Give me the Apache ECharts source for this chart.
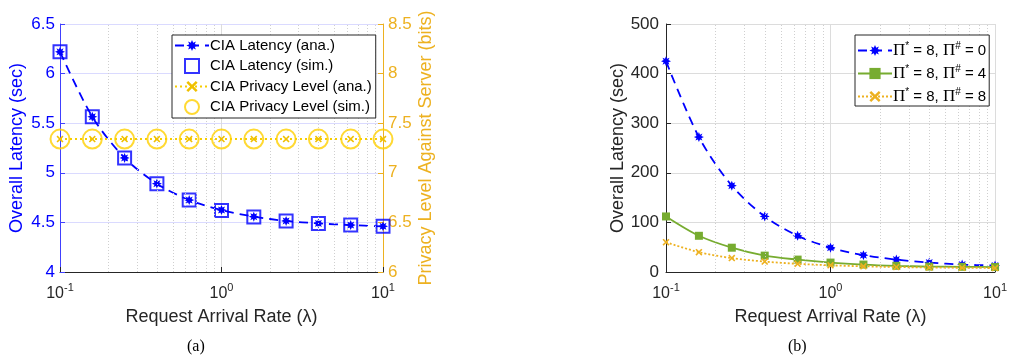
<!DOCTYPE html>
<html>
<head>
<meta charset="utf-8">
<script src="https://cdn.jsdelivr.net/npm/echarts@6/dist/echarts.min.js"></script>
<style>
  html, body { margin: 0; padding: 0; background: #fff; }
  #chart { width: 1010px; height: 360px; }
</style>
</head>
<body>
<div id="chart"></div>
<script>
// ---------- data ----------
const X_VALUES = [0.1, 0.1585, 0.2512, 0.3981, 0.631, 1, 1.585, 2.512, 3.981, 6.31, 10];
const MINOR_TICKS = [0.2, 0.3, 0.4, 0.5, 0.6, 0.7, 0.8, 0.9, 2, 3, 4, 5, 6, 7, 8, 9];

// (a)
const LAT_ANA = [6.22, 5.565, 5.15, 4.89, 4.725, 4.625, 4.558, 4.515, 4.49, 4.473, 4.46];
const LAT_SIM = [6.22, 5.565, 5.15, 4.89, 4.725, 4.62, 4.555, 4.515, 4.49, 4.475, 4.46];
const PRIV_ANA = [7.34, 7.34, 7.34, 7.34, 7.34, 7.34, 7.34, 7.34, 7.34, 7.34, 7.34];
const PRIV_SIM = [7.34, 7.34, 7.34, 7.34, 7.34, 7.34, 7.34, 7.34, 7.34, 7.34, 7.34];

// (b)
const B_P0 = [425, 272, 174, 112, 73, 49, 34, 25, 19, 15, 13];
const B_P4 = [112, 73, 49, 33, 25, 19, 15, 12.5, 11, 10.5, 10];
const B_P8 = [60, 40, 28, 21, 16.5, 13.5, 11.5, 10, 9, 8.5, 8];

const NAMES_A = ['CIA Latency (ana.)', 'CIA Latency (sim.)', 'CIA Privacy Level (ana.)', 'CIA Privacy Level (sim.)'];
const NAMES_B = ['Π* = 8, Π# = 0', 'Π* = 8, Π# = 4', 'Π* = 8, Π# = 8'];
const LEGEND_B_RICH = {
  'Π* = 8, Π# = 0': '{pi|Π}{sup|*} = 8, {pi|Π}{sup|#} = 0',
  'Π* = 8, Π# = 4': '{pi|Π}{sup|*} = 8, {pi|Π}{sup|#} = 4',
  'Π* = 8, Π# = 8': '{pi|Π}{sup|*} = 8, {pi|Π}{sup|#} = 8'
};

// ---------- helpers ----------
const pairs = (ys) => X_VALUES.map((x, i) => [x, ys[i]]);
const FONT = 'Liberation Sans, Arial, Helvetica, sans-serif';
const TXT = '#262626';
const ASTERISK = 'path://M100 50 L74 61 L85 85 L61 74 L50 100 L39 74 L15 85 L26 61 L0 50 L26 39 L15 15 L39 26 L50 0 L61 26 L85 15 L74 39 Z';
const XMARK = 'path://M0 16 L16 0 L50 34 L84 0 L100 16 L66 50 L100 84 L84 100 L50 66 L16 100 L0 84 L34 50 Z';
const SQUARE = 'path://M0 0 L100 0 L100 100 L0 100 Z';

function xAxisCfg(gridIndex) {
  return {
    type: 'log', logBase: 10, min: 0.1, max: 10, gridIndex,
    name: 'Request Arrival Rate (λ)', nameLocation: 'middle', nameGap: 36,
    nameTextStyle: { fontFamily: FONT, fontSize: 18, color: TXT },
    axisLine: { show: true, lineStyle: { color: TXT, width: 1 } },
    axisTick: { show: true, inside: true, length: 5, lineStyle: { color: TXT } },
    axisLabel: {
      show: true, margin: 10, color: TXT, fontFamily: FONT, fontSize: 16,
      showMinLabel: true, showMaxLabel: true,
      formatter: (v) => '10{sup|' + Math.round(Math.log10(v)) + '}',
      rich: { sup: { fontSize: 11, fontFamily: FONT, color: TXT, padding: [0, 0, 12, 0] } }
    },
    splitLine: { show: true, lineStyle: { color: '#dcdcdc', width: 1 } },
    minorTick: { show: false }, minorSplitLine: { show: false }
  };
}

function minorLines() {
  return {
    silent: true, symbol: 'none', animation: false,
    label: { show: false },
    lineStyle: { color: '#cfcfcf', type: [1, 2], width: 1 },
    emphasis: { disabled: true },
    data: MINOR_TICKS.map(v => ({ xAxis: v }))
  };
}

const chart = echarts.init(document.getElementById('chart'), null, { renderer: 'canvas' });

const option = {
  animation: false,
  backgroundColor: '#fff',
  grid: [
    { left: 60, top: 24, width: 323, height: 248 },
    { left: 666, top: 24, width: 333, height: 248 }
  ],
  xAxis: [xAxisCfg(0), xAxisCfg(1)],
  yAxis: [
    {
      type: 'value', gridIndex: 0, min: 4, max: 6.5, interval: 0.5, position: 'left',
      name: 'Overall Latency (sec)', nameLocation: 'middle', nameGap: 34,
      nameTextStyle: { fontFamily: FONT, fontSize: 18, color: '#0000ff' },
      axisLine: { show: true, lineStyle: { color: '#4040ff', width: 1 } },
      axisTick: { show: true, inside: true, length: 5, lineStyle: { color: '#4040ff' } },
      axisLabel: { color: '#0000ff', fontFamily: FONT, fontSize: 17, margin: 5 },
      splitLine: { show: true, lineStyle: { color: '#dadaff', width: 1 } }
    },
    {
      type: 'value', gridIndex: 0, min: 6, max: 8.5, interval: 0.5, position: 'right',
      name: 'Privacy Level Against Server (bits)', nameLocation: 'middle', nameGap: 34,
      nameTextStyle: { fontFamily: FONT, fontSize: 18, color: '#EDB120' },
      axisLine: { show: true, lineStyle: { color: '#EDB120', width: 1 } },
      axisTick: { show: true, inside: true, length: 5, lineStyle: { color: '#EDB120' } },
      axisLabel: { color: '#EDB120', fontFamily: FONT, fontSize: 17, margin: 5 },
      splitLine: { show: false }
    },
    {
      type: 'value', gridIndex: 1, min: 0, max: 500, interval: 100, position: 'left',
      name: 'Overall Latency (sec)', nameLocation: 'middle', nameGap: 39,
      nameTextStyle: { fontFamily: FONT, fontSize: 18, color: TXT },
      axisLine: { show: true, lineStyle: { color: TXT, width: 1 } },
      axisTick: { show: true, inside: true, length: 5, lineStyle: { color: TXT } },
      axisLabel: { color: TXT, fontFamily: FONT, fontSize: 17, margin: 7 },
      splitLine: { show: true, lineStyle: { color: '#dcdcdc', width: 1 } }
    }
  ],
  legend: [
    {
      data: NAMES_A, orient: 'vertical', left: 172, top: 35, z: 20,
      itemWidth: 34, itemHeight: 14, itemGap: 5,
      padding: [3, 4, 3, 2],
      borderColor: TXT, borderWidth: 1, backgroundColor: '#fff',
      textStyle: { fontFamily: FONT, fontSize: 15, color: '#000', padding: [0, 0, 0, -4] },
      selectedMode: false
    },
    {
      data: NAMES_B, orient: 'vertical', left: 855, top: 35, z: 20,
      itemWidth: 34, itemHeight: 14, itemGap: 5,
      padding: [6, 3, 1, 2],
      borderColor: TXT, borderWidth: 1, backgroundColor: '#fff',
      formatter: (name) => LEGEND_B_RICH[name],
      textStyle: {
        fontFamily: FONT, fontSize: 15, color: '#000', padding: [0, 0, 0, -4],
        rich: {
          pi: { fontFamily: 'Liberation Serif, Times New Roman, serif', fontSize: 17, color: '#000' },
          sup: { fontFamily: FONT, fontSize: 10, color: '#000', padding: [0, 0, 9, 0] }
        }
      },
      selectedMode: false
    }
  ],
  series: [
    // ----- (a) -----
    {
      name: NAMES_A[0], type: 'line', xAxisIndex: 0, yAxisIndex: 0,
      data: pairs(LAT_ANA), smooth: 0.3,
      symbol: ASTERISK, symbolSize: 10, showSymbol: true,
      lineStyle: { color: '#0000ff', width: 1.8, type: [9, 6] },
      itemStyle: { color: '#0000ff' },
      markLine: minorLines(), z: 3
    },
    {
      name: NAMES_A[1], type: 'scatter', xAxisIndex: 0, yAxisIndex: 0,
      data: pairs(LAT_SIM), symbol: SQUARE, symbolSize: 13,
      itemStyle: { color: 'rgba(0,0,0,0)', borderColor: '#0000ff', borderWidth: 2 }, z: 4
    },
    {
      name: NAMES_A[2], type: 'line', xAxisIndex: 0, yAxisIndex: 1,
      data: pairs(PRIV_ANA),
      symbol: XMARK, symbolSize: 7, showSymbol: true,
      lineStyle: { color: '#f7cd00', width: 2, type: [2, 3] },
      itemStyle: { color: '#f0c000' }, z: 5
    },
    {
      name: NAMES_A[3], type: 'scatter', xAxisIndex: 0, yAxisIndex: 1,
      data: pairs(PRIV_SIM), symbol: 'circle', symbolSize: 19,
      itemStyle: { color: 'rgba(0,0,0,0)', borderColor: '#ffd000', borderWidth: 2 }, z: 6
    },
    // ----- (b) -----
    {
      name: NAMES_B[0], type: 'line', xAxisIndex: 1, yAxisIndex: 2,
      data: pairs(B_P0), smooth: 0.3,
      symbol: ASTERISK, symbolSize: 10, showSymbol: true,
      lineStyle: { color: '#0000ff', width: 1.8, type: [9, 6] },
      itemStyle: { color: '#0000ff' },
      markLine: minorLines(), z: 3
    },
    {
      name: NAMES_B[1], type: 'line', xAxisIndex: 1, yAxisIndex: 2,
      data: pairs(B_P4), smooth: 0.3,
      symbol: 'rect', symbolSize: 8, showSymbol: true,
      lineStyle: { color: '#77AC30', width: 1.8 },
      itemStyle: { color: '#77AC30' }, z: 4
    },
    {
      name: NAMES_B[2], type: 'line', xAxisIndex: 1, yAxisIndex: 2,
      data: pairs(B_P8), smooth: 0.3,
      symbol: XMARK, symbolSize: 7, showSymbol: true,
      lineStyle: { color: '#EDB120', width: 1.8, type: [2, 2] },
      itemStyle: { color: '#EDB120' }, z: 5
    }
  ],
  graphic: [
    { type: 'text', left: 187, top: 339, style: { text: '(a)', font: '16px "Liberation Serif", "Times New Roman", serif', fill: '#000' } },
    { type: 'text', left: 788, top: 339, style: { text: '(b)', font: '16px "Liberation Serif", "Times New Roman", serif', fill: '#000' } }
  ]
};

chart.setOption(option);
</script>
</body>
</html>
